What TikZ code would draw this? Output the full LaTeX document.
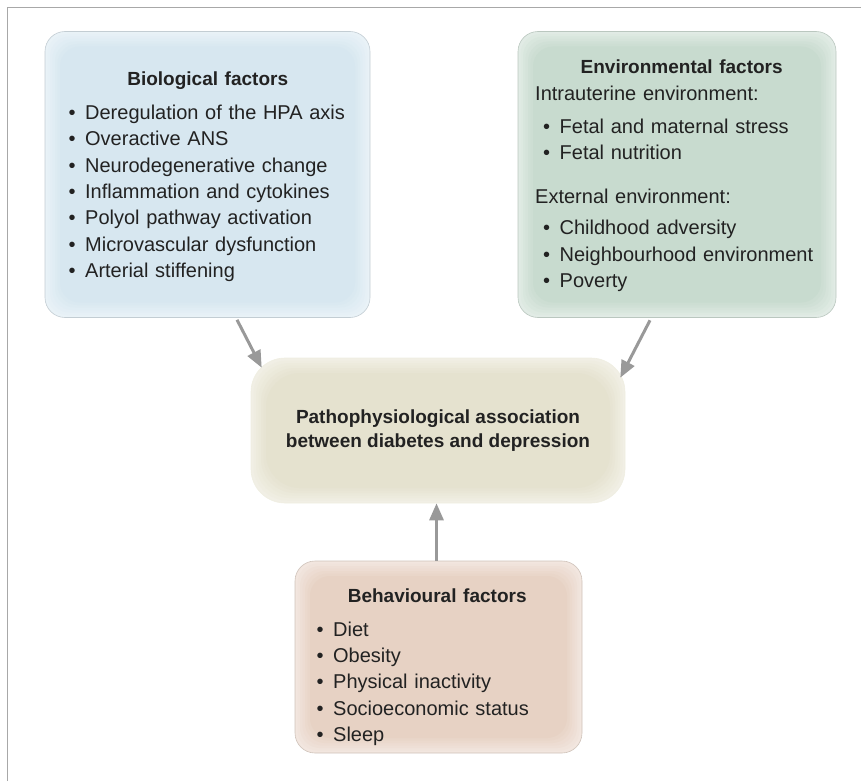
\documentclass[tikz,border=0pt]{standalone}
\usepackage{fontspec}
\setmainfont{Liberation Sans}
\usetikzlibrary{arrows.meta}
\definecolor{biofill}{HTML}{D7E7F0}
\definecolor{bioline}{HTML}{C3CDD3}
\definecolor{envfill}{HTML}{C8DBCF}
\definecolor{envline}{HTML}{BAC7BF}
\definecolor{cenfill}{HTML}{E5E2CF}
\definecolor{behfill}{HTML}{E7D2C4}
\definecolor{behline}{HTML}{CFC3BA}
\definecolor{arrowgray}{HTML}{999999}
\definecolor{framegray}{HTML}{A8A8A8}
\definecolor{textgray}{HTML}{222222}
\newcommand{\bitem}[2][0pt]{\par\noindent\hspace*{#1}\makebox[16.5pt][l]{\textbullet}#2}
\newcommand{\boxtitle}[1]{{\centering\bfseries\fontsize{19}{26.4}\selectfont #1\par}}
\tikzset{
  factorbox/.style n args={3}{rounded corners=#3, draw=#2, line width=0.6pt, fill=#1!55!white,
    path picture={\foreach \i [evaluate=\i as \p using int(55+\i*45/6)] in {1,...,6}
      \fill[#1!\p!white, rounded corners=#3]
        ([xshift=\i*2.5pt,yshift=\i*2.5pt]path picture bounding box.south west) rectangle
        ([xshift=-\i*2.5pt,yshift=-\i*2.5pt]path picture bounding box.north east);}},
  listtext/.style={anchor=north west, inner sep=0pt, align=left, text=textgray,
    font=\fontsize{20}{26.4}\selectfont},
  flow/.style={draw=arrowgray, line width=3pt, -{Triangle[length=17pt,width=14pt]}}
}
\begin{document}
\begin{tikzpicture}[x=1pt,y=1pt]
  \useasboundingbox (0,0) rectangle (861,-781);
  % frame
  \draw[framegray, line width=1.2pt] (7.5,-781) -- (7.5,-7.5) -- (861,-7.5);

  % boxes
  \node[factorbox={biofill}{bioline}{20pt}, minimum width=325pt, minimum height=286pt] (bio) at (207.5,-174.5) {};
  \node[factorbox={envfill}{envline}{20pt}, minimum width=318pt, minimum height=286pt] (env) at (677,-174.5) {};
  \node[factorbox={behfill}{behline}{20pt}, minimum width=287pt, minimum height=192pt] (beh) at (438.5,-657) {};
  \node[factorbox={cenfill}{cenfill!60!white}{34pt}, minimum width=374pt, minimum height=145pt,
    align=center, text=textgray, font=\bfseries\fontsize{19}{23.3}\selectfont] (cen) at (438,-430.5)
    {Pathophysiological association\\between diabetes and depression};

  % texts
  \node[listtext, text width=278pt] (biotext) at (68.5,-71.5) {\boxtitle{Biological factors}\vspace{7.5pt}
    \bitem{Deregulation of the HPA axis}
    \bitem{Overactive ANS}
    \bitem{Neurodegenerative change}
    \bitem{Inflammation and cytokines}
    \bitem{Polyol pathway activation}
    \bitem{Microvascular dysfunction}
    \bitem{Arterial stiffening}};
  \node[listtext, text width=293pt] (envtext) at (535,-60) {\boxtitle{Environmental factors}
    \noindent Intrauterine environment:\par\vspace{6.8pt}
    \bitem[8pt]{Fetal and maternal stress}
    \bitem[8pt]{Fetal nutrition}\par\vspace{16.8pt}
    \noindent External environment:\par\vspace{5.2pt}
    \bitem[8pt]{Childhood adversity}
    \bitem[8pt]{Neighbourhood environment}
    \bitem[8pt]{Poverty}};
  \node[listtext, text width=241pt] (behtext) at (316.5,-588.5) {\boxtitle{Behavioural factors}\vspace{7.2pt}
    \bitem{Diet}
    \bitem{Obesity}
    \bitem{Physical inactivity}
    \bitem{Socioeconomic status}
    \bitem{Sleep}};

  % arrows
  \draw[flow] ([xshift=29.5pt,yshift=-2pt]bio.south) -- ([xshift=11pt,yshift=-10pt]cen.north west);
  \draw[flow] ([xshift=-27pt,yshift=-2.5pt]env.south) -- ([xshift=-5pt,yshift=-20pt]cen.north east);
  \draw[flow] ([xshift=-2pt]beh.north) -- ([xshift=-2pt]beh.north |- cen.south);
\end{tikzpicture}
\end{document}
